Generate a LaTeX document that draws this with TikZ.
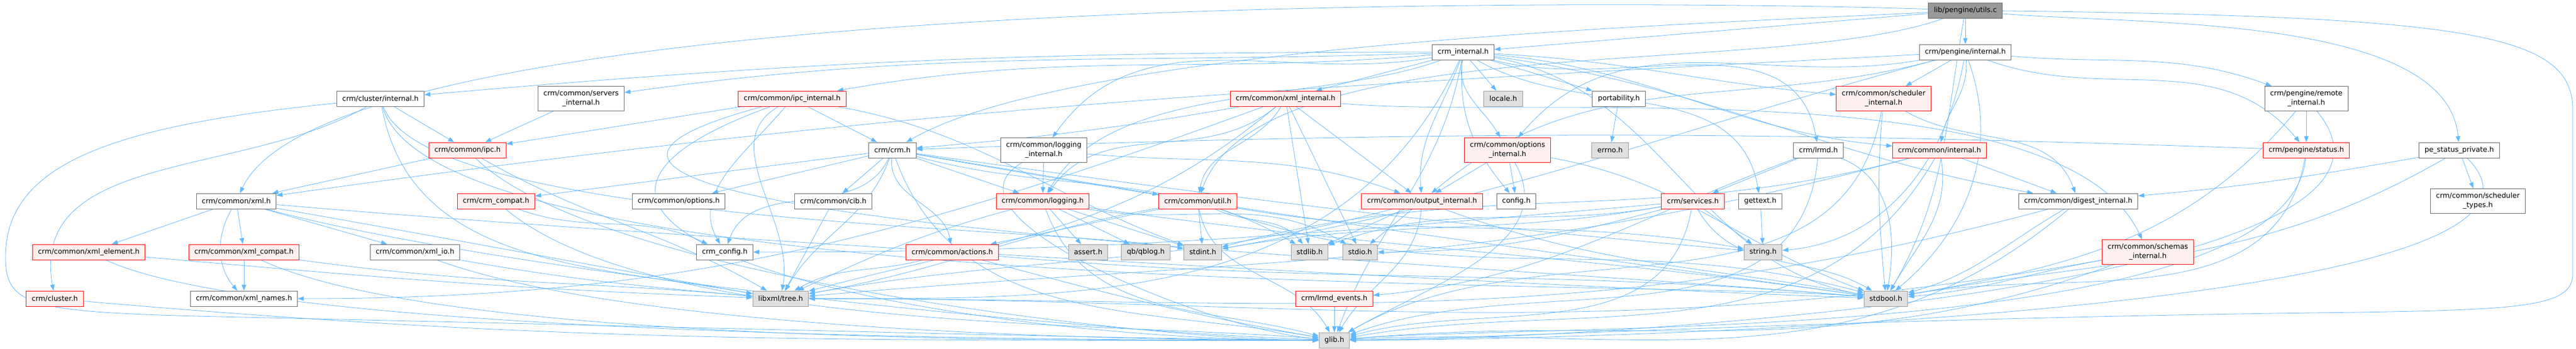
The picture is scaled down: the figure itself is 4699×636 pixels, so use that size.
\documentclass[tikz,border=0pt]{standalone}
\usepackage{fontspec}
\setmainfont{DejaVu Sans}
\usetikzlibrary{arrows.meta,backgrounds}
\definecolor{edgeblue}{HTML}{63B8FF}
\definecolor{boxgray}{HTML}{666666}
\definecolor{sysgray}{HTML}{999999}
\definecolor{sysfill}{HTML}{E0E0E0}
\definecolor{truncred}{HTML}{FF0000}
\definecolor{truncfill}{HTML}{FFF0F0}
\definecolor{rootfill}{HTML}{999999}
\newcommand{\hdrfont}{\fontsize{1.29}{1.7}\selectfont}
\tikzset{
  hdr/.style={draw=boxgray, fill=white, line width=0.1pt, font=\hdrfont, inner xsep=1pt, inner ysep=0pt, minimum height=2.8pt, align=center},
  twoline/.style={minimum height=4.5pt},
  trunc/.style={hdr, draw=truncred, fill=truncfill},
  sys/.style={hdr, draw=sysgray, fill=sysfill},
  src/.style={hdr, fill=rootfill},
  dep/.style={draw=edgeblue, line width=0.08pt, -{Triangle[length=1.1pt,width=0.8pt]}},
}

\begin{document}
\begin{tikzpicture}[x=0.1pt, y=0.1pt]
            \useasboundingbox (0,0) rectangle (4699,-636);

            % Define nodes
            \node[src] (utils) at (3585,-19) {lib/pengine/utils.c};

            \node[hdr] (crminternal) at (2669,-95) {crm\_internal.h};
            \node[hdr] (pengineinternal) at (3585,-95) {crm/pengine/internal.h};

            \node[hdr] (clusterinternal) at (694,-180) {crm/cluster/internal.h};
            \node[hdr, twoline] (serversinternal) at (1060,-180) {crm/common/servers\\\_internal.h};
            \node[trunc] (ipcinternal) at (1445,-180) {crm/common/ipc\_internal.h};
            \node[trunc] (xmlinternal) at (2345,-180) {crm/common/xml\_internal.h};
            \node[sys] (locale) at (2742,-180) {locale.h};
            \node[hdr] (portability) at (2953,-180) {portability.h};
            \node[trunc, twoline] (schedinternal) at (3436,-180) {crm/common/scheduler\\\_internal.h};
            \node[hdr, twoline] (remoteinternal) at (4207,-180) {crm/pengine/remote\\\_internal.h};

            \node[trunc] (ipc) at (853,-274) {crm/common/ipc.h};
            \node[hdr] (crm) at (1628,-274) {crm/crm.h};
            \node[hdr, twoline] (logginginternal) at (1904,-274) {crm/common/logging\\\_internal.h};
            \node[trunc, twoline] (optionsinternal) at (2750,-274) {crm/common/options\\\_internal.h};
            \node[sys] (errno) at (2937,-274) {errno.h};
            \node[hdr] (lrmd) at (3317,-274) {crm/lrmd.h};
            \node[trunc] (commoninternal) at (3538,-274) {crm/common/internal.h};
            \node[trunc] (status) at (4207,-274) {crm/pengine/status.h};
            \node[hdr] (pestatusprivate) at (4486,-274) {pe\_status\_private.h};

            \node[hdr] (xml) at (431,-367) {crm/common/xml.h};
            \node[trunc] (crmcompat) at (905,-367) {crm/crm\_compat.h};
            \node[hdr] (options) at (1238,-367) {crm/common/options.h};
            \node[hdr] (cib) at (1520,-367) {crm/common/cib.h};
            \node[trunc] (logging) at (1902,-367) {crm/common/logging.h};
            \node[trunc] (util) at (2185,-367) {crm/common/util.h};
            \node[trunc] (outputinternal) at (2594,-367) {crm/common/output\_internal.h};
            \node[hdr] (config) at (2766,-367) {config.h};
            \node[trunc] (services) at (3088,-367) {crm/services.h};
            \node[hdr] (gettext) at (3211,-367) {gettext.h};
            \node[hdr] (digestinternal) at (3791,-367) {crm/common/digest\_internal.h};
            \node[hdr, twoline] (schedtypes) at (4520,-367) {crm/common/scheduler\\\_types.h};

            \node[trunc] (xmlelement) at (162,-460) {crm/common/xml\_element.h};
            \node[trunc] (xmlcompat) at (445,-460) {crm/common/xml\_compat.h};
            \node[hdr] (xmlio) at (757,-460) {crm/common/xml\_io.h};
            \node[hdr] (crmconfig) at (1322,-460) {crm\_config.h};
            \node[trunc] (actions) at (1737,-460) {crm/common/actions.h};
            \node[sys] (assert) at (1985,-460) {assert.h};
            \node[sys] (qblog) at (2090,-460) {qb/qblog.h};
            \node[sys] (stdint) at (2194,-460) {stdint.h};
            \node[sys] (stdlib) at (2389,-460) {stdlib.h};
            \node[sys] (stdio) at (2481,-460) {stdio.h};
            \node[sys] (string) at (3216,-460) {string.h};
            \node[trunc, twoline] (schemasinternal) at (3918,-460) {crm/common/schemas\\\_internal.h};

            \node[trunc] (cluster) at (100,-545) {crm/cluster.h};
            \node[hdr] (xmlnames) at (445,-545) {crm/common/xml\_names.h};
            \node[sys] (libxmltree) at (1424,-545) {libxml/tree.h};
            \node[trunc] (lrmdevents) at (2434,-545) {crm/lrmd\_events.h};
            \node[sys] (stdbool) at (3440,-545) {stdbool.h};

            \node[sys] (glib) at (2434,-621) {glib.h};

            % Connect the nodes
            \begin{pgfonlayer}{background}
            \fill[white] (0,0) rectangle (4699,-636);

            % lib/pengine/utils.c
            \draw[dep] (utils) -- (crminternal);
            \draw[dep] (utils) -- (pengineinternal);
            \draw[dep] (utils) to[out=183,in=30,looseness=0.5] (crm);
            \draw[dep] (utils) to[out=178,in=65,looseness=0.35] (xml);
            \draw[dep] (utils) to[out=200,in=70,looseness=0.6] (util);
            \draw[dep] (utils) .. controls (4500,-30) and (4693,-60) .. (4693,-200) -- (4693,-500) .. controls (4693,-560) and (4600,-565) .. (4300,-570) .. controls (3400,-580) and (2800,-615) .. (glib);
            \draw[dep] (utils) to[out=-100,in=60] (stdbool);
            \draw[dep] (utils) to[out=-5,in=95,looseness=0.7] (pestatusprivate);

            % crm_internal.h
            \draw[dep] (crminternal) to[out=180,in=5] (clusterinternal);
            \draw[dep] (crminternal) to[out=182,in=8] (serversinternal);
            \draw[dep] (crminternal) to[out=185,in=10] (ipcinternal);
            \draw[dep] (crminternal) -- (xmlinternal);
            \draw[dep] (crminternal) -- (locale);
            \draw[dep] (crminternal) -- (portability);
            \draw[dep] (crminternal) to[out=-100,in=120] (optionsinternal);
            \draw[dep] (crminternal) to[out=-110,in=95] (outputinternal);
            \draw[dep] (crminternal) to[out=-95,in=130] (config);
            \draw[dep] (crminternal) to[out=-15,in=100] (lrmd);
            \draw[dep] (crminternal) to[out=-5,in=175] (commoninternal);
            \draw[dep] (crminternal) to[out=190,in=55] (logginginternal);
            \draw[dep] (crminternal) to[out=200,in=60,looseness=0.8] (logging);
            \draw[dep] (crminternal) to[out=-30,in=100] (gettext);
            \draw[dep] (crminternal) to[out=-115,in=0] (libxmltree);
            \draw[dep] (crminternal) to[out=-100,in=70] (glib);
            \draw[dep] (crminternal) to[out=-10,in=170] (stdbool);
            \draw[dep] (crminternal) to[out=-3,in=175] (schedinternal);
            \draw[dep] (crminternal) to[out=-8,in=170] (digestinternal);

            % crm/pengine/internal.h
            \draw[dep] (pengineinternal) -- (schedinternal);
            \draw[dep] (pengineinternal) to[out=-85,in=80] (commoninternal);
            \draw[dep] (pengineinternal) to[out=-5,in=160] (remoteinternal);
            \draw[dep] (pengineinternal) to[out=-20,in=130] (status);
            \draw[dep] (pengineinternal) to[out=190,in=50] (optionsinternal);
            \draw[dep] (pengineinternal) to[out=195,in=40] (outputinternal);
            \draw[dep] (pengineinternal) to[out=183,in=8] (xml);
            \draw[dep] (pengineinternal) to[out=-70,in=40] (stdbool);
            \draw[dep] (pengineinternal) to[out=195,in=10] (stdint);
            \draw[dep] (pengineinternal) to[out=-100,in=5] (string);

            % second row
            \draw[dep] (clusterinternal) -- (ipc);
            \draw[dep] (clusterinternal) to[out=210,in=100] (cluster);
            \draw[dep] (clusterinternal) .. controls (200,-230) and (10,-300) .. (10,-470) .. controls (10,-560) and (60,-570) .. (400,-578) .. controls (1400,-600) and (2000,-618) .. (glib);
            \draw[dep] (clusterinternal) to[out=-80,in=170] (libxmltree);
            \draw[dep] (clusterinternal) to[out=-75,in=175,looseness=0.35] (stdbool);
            \draw[dep] (clusterinternal) to[out=-70,in=170,looseness=0.4] (stdint);
            \draw[dep] (serversinternal) -- (ipc);
            \draw[dep] (ipcinternal) -- (ipc);
            \draw[dep] (ipcinternal) -- (crm);
            \draw[dep] (ipcinternal) to[out=-130,in=120] (crmconfig);
            \draw[dep] (ipcinternal) to[out=200,in=180,looseness=1.6] (glib);
            \draw[dep] (ipcinternal) to[out=195,in=175] (stdbool);
            \draw[dep] (ipcinternal) to[out=-10,in=160] (stdint);
            \draw[dep] (ipcinternal) to[out=-150,in=80] (libxmltree);
            \draw[dep] (xmlinternal) to[out=190,in=5] (crm);
            \draw[dep] (xmlinternal) to[out=-140,in=55] (logging);
            \draw[dep] (xmlinternal) to[out=-120,in=80] (util);
            \draw[dep] (xmlinternal) -- (outputinternal);
            \draw[dep] (xmlinternal) -- (stdlib);
            \draw[dep] (xmlinternal) -- (stdio);
            \draw[dep] (xmlinternal) to[out=200,in=0] (xmlnames);
            \draw[dep] (xmlinternal) to[out=-5,in=115,looseness=0.6] (schemasinternal);
            \draw[dep] (xmlinternal) to[out=-140,in=15] (libxmltree);
            \draw[dep] (portability) -- (errno);
            \draw[dep] (schedinternal) to[out=-30,in=110] (digestinternal);
            \draw[dep] (schedinternal) to[out=-100,in=30] (glib);
            \draw[dep] (schedinternal) to[out=-95,in=95] (stdbool);
            \draw[dep] (remoteinternal) -- (status);
            \draw[dep] (remoteinternal) to[out=-130,in=10] (stdbool);
            \draw[dep] (remoteinternal) to[out=-50,in=0,looseness=0.6] (glib);

            % third row
            \draw[dep] (ipc) -- (xml);
            \draw[dep] (ipc) to[out=-30,in=150] (libxmltree);
            \draw[dep] (ipc) to[out=-45,in=180,looseness=0.5] (glib);
            \draw[dep] (crm) -- (crmcompat);
            \draw[dep] (crm) -- (options);
            \draw[dep] (crm) -- (cib);
            \draw[dep] (crm) -- (logging);
            \draw[dep] (crm) -- (util);
            \draw[dep] (crm) to[out=-95,in=100] (actions);
            \draw[dep] (crm) to[out=-115,in=70] (crmconfig);
            \draw[dep] (crm) to[out=-110,in=60] (libxmltree);
            \draw[dep] (crm) to[out=-15,in=150] (stdlib);
            \draw[dep] (crm) to[out=-70,in=170] (glib);
            \draw[dep] (crm) to[out=-10,in=172] (stdbool);
            \draw[dep] (crm) to[out=-8,in=175] (string);
            \draw[dep] (logginginternal) -- (logging);
            \draw[dep] (logginginternal) to[out=-5,in=160] (outputinternal);
            \draw[dep] (logginginternal) to[out=210,in=175,looseness=0.8] (glib);
            \draw[dep] (optionsinternal) -- (outputinternal);
            \draw[dep] (optionsinternal) -- (config);
            \draw[dep] (optionsinternal) to[out=-10,in=160] (stdbool);
            \draw[dep] (optionsinternal) to[out=-60,in=30] (glib);
            \draw[dep] (lrmd) -- (services);
            \draw[dep] (lrmd) to[out=200,in=5] (lrmdevents);
            \draw[dep] (lrmd) to[out=-20,in=80] (stdbool);
            \draw[dep] (lrmd) to[out=-95,in=20] (glib);
            \draw[dep] (commoninternal) -- (digestinternal);
            \draw[dep] (commoninternal) to[out=-80,in=60] (stdbool);
            \draw[dep] (commoninternal) to[out=-120,in=10] (glib);
            \draw[dep] (commoninternal) to[out=195,in=5] (libxmltree);
            \draw[dep] (commoninternal) to[out=195,in=15] (stdint);
            \draw[dep] (status) to[out=178,in=2] (crm);
            \draw[dep] (status) to[out=-95,in=5,looseness=0.5] (glib);
            \draw[dep] (status) to[out=-100,in=10] (stdbool);
            \draw[dep] (pestatusprivate) -- (schedtypes);
            \draw[dep] (pestatusprivate) to[out=190,in=5] (digestinternal);
            \draw[dep] (pestatusprivate) to[out=-150,in=10] (stdbool);
            \draw[dep] (pestatusprivate) to[out=-45,in=0,looseness=0.5] (glib);

            % fourth row
            \draw[dep] (xml) -- (xmlelement);
            \draw[dep] (xml) -- (xmlcompat);
            \draw[dep] (xml) to[out=-120,in=130] (xmlnames);
            \draw[dep] (xml) -- (xmlio);
            \draw[dep] (xml) to[out=-10,in=170] (libxmltree);
            \draw[dep] (xml) to[out=-15,in=178,looseness=0.6] (glib);
            \draw[dep] (xml) to[out=-5,in=178,looseness=0.6] (stdbool);
            \draw[dep] (crmcompat) to[out=-20,in=155] (crmconfig);
            \draw[dep] (crmcompat) to[out=-40,in=175,looseness=0.6] (glib);
            \draw[dep] (cib) -- (libxmltree);
            \draw[dep] (logging) -- (assert);
            \draw[dep] (logging) -- (qblog);
            \draw[dep] (logging) -- (stdint);
            \draw[dep] (logging) to[out=-10,in=150] (stdio);
            \draw[dep] (logging) to[out=-70,in=165] (glib);
            \draw[dep] (logging) to[out=-165,in=25] (libxmltree);
            \draw[dep] (logging) to[out=-8,in=172] (stdbool);
            \draw[dep] (util) -- (actions);
            \draw[dep] (util) -- (stdint);
            \draw[dep] (util) to[out=-20,in=165] (stdbool);
            \draw[dep] (util) to[out=-80,in=120] (glib);
            \draw[dep] (util) to[out=-170,in=10] (libxmltree);
            \draw[dep] (util) to[out=-25,in=130] (stdlib);
            \draw[dep] (util) to[out=-10,in=170] (string);
            \draw[dep] (outputinternal) -- (stdio);
            \draw[dep] (outputinternal) -- (stdlib);
            \draw[dep] (outputinternal) to[out=-95,in=60] (glib);
            \draw[dep] (outputinternal) to[out=-165,in=10] (libxmltree);
            \draw[dep] (outputinternal) to[out=-20,in=170] (stdbool);
            \draw[dep] (services) -- (string);
            \draw[dep] (services) to[out=-60,in=150] (stdbool);
            \draw[dep] (services) to[out=-100,in=15] (glib);
            \draw[dep] (services) to[out=190,in=10] (stdint);
            \draw[dep] (services) to[out=195,in=0] (stdio);
            \draw[dep] (services) to[out=190,in=20] (stdlib);
            \draw[dep] (services) to[out=185,in=0] (crmconfig);
            \draw[dep] (gettext) -- (string);
            \draw[dep] (digestinternal) to[out=-150,in=15] (stdbool);
            \draw[dep] (digestinternal) to[out=-140,in=3] (glib);
            \draw[dep] (digestinternal) to[out=-165,in=0] (libxmltree);

            % fifth row and below
            \draw[dep] (schemasinternal) to[out=-160,in=5] (glib);
            \draw[dep] (schemasinternal) to[out=-170,in=0] (libxmltree);
            \draw[dep] (schemasinternal) to[out=-170,in=5] (stdbool);
            \draw[dep] (xmlelement) to[out=-5,in=178] (libxmltree);
            \draw[dep] (xmlelement) to[out=-25,in=180,looseness=0.4] (glib);
            \draw[dep] (xmlcompat) -- (xmlnames);
            \draw[dep] (xmlcompat) to[out=-25,in=180,looseness=0.5] (glib);
            \draw[dep] (xmlcompat) to[out=-8,in=175] (libxmltree);
            \draw[dep] (xmlio) to[out=-10,in=175] (libxmltree);
            \draw[dep] (xmlio) to[out=-20,in=180,looseness=0.6] (glib);
            \draw[dep] (actions) to[out=-165,in=30] (libxmltree);
            \draw[dep] (actions) to[out=-15,in=170] (glib);
            \draw[dep] (actions) to[out=-5,in=175] (stdbool);
            \draw[dep] (cluster) to[out=-5,in=180] (glib);
            \draw[dep] (lrmdevents) -- (glib);
            \end{pgfonlayer}
\end{tikzpicture}
\end{document}
